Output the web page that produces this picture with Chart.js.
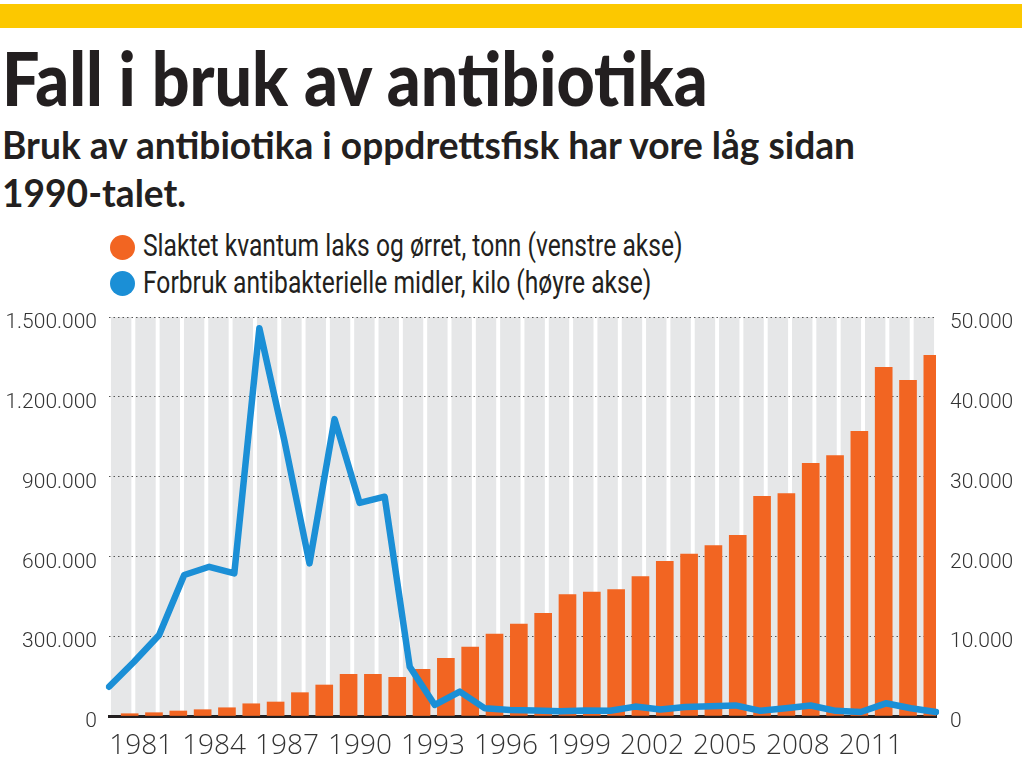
<!DOCTYPE html>
<html>
<head>
<meta charset="utf-8">
<script src="https://cdn.jsdelivr.net/npm/chart.js@4.4.1/dist/chart.umd.min.js"></script>
<style>
  html, body { margin: 0; padding: 0; background: #fff; }
  body { width: 1024px; height: 777px; position: relative; overflow: hidden; color: #231f20; }
  #topbar { position: absolute; left: 0; top: 4px; width: 1022px; height: 24px; background: #fcc800; }
  .fit { position: absolute; white-space: nowrap; transform-origin: 0 0; }
  #title { left: 2px; top: 40px; font: 900 75px/75px Lato, sans-serif; }
  #sub1 { left: 2px; top: 120px; font: 700 38px/48px Lato, sans-serif; }
  #sub2 { left: 2px; top: 168px; font: 700 38px/48px Lato, sans-serif; }
  .dot { position: absolute; left: 110px; width: 25px; height: 25px; border-radius: 50%; }
  .legtxt { left: 143px; font: 400 31px/36px Roboto, sans-serif; }
  #wrap { position: absolute; left: 0; top: 300px; width: 1024px; height: 477px; }
</style>
</head>
<body>
<div id="topbar"></div>
<div id="title" class="fit">Fall i bruk av antibiotika</div>
<div id="sub1" class="fit">Bruk av antibiotika i oppdrettsfisk har vore låg sidan</div>
<div id="sub2" class="fit">1990-talet.</div>
<div class="dot" style="top:235px;background:#f26522"></div>
<div id="leg1" class="fit legtxt" style="top:228px">Slaktet kvantum laks og ørret, tonn (venstre akse)</div>
<div class="dot" style="top:271px;background:#1b8fd6"></div>
<div id="leg2" class="fit legtxt" style="top:265px">Forbruk antibakterielle midler, kilo (høyre akse)</div>
<div id="wrap"><canvas id="chart"></canvas></div>
<script>
var years = ['1981', '1982', '1983', '1984', '1985', '1986', '1987', '1988', '1989', '1990',
  '1991', '1992', '1993', '1994', '1995', '1996', '1997', '1998', '1999', '2000',
  '2001', '2002', '2003', '2004', '2005', '2006', '2007', '2008', '2009', '2010',
  '2011', '2012', '2013', '2014'];
// slaktet kvantum, tonn (venstre akse)
var tonnes = [8600, 12400, 18800, 23700, 31000, 46000, 52600, 87700, 116500, 156600,
  156600, 145300, 175500, 216900, 259400, 308300, 345900, 386000, 456000, 466000,
  475000, 523800, 581500, 609000, 640400, 679300, 826000, 835800, 950000, 978600,
  1070300, 1310800, 1262000, 1356000];
// antibakterielle midler, kilo (hoyre akse)
var kilos = [3670, 6800, 10150, 17670, 18700, 17880, 48580, 34500, 19130, 37200,
  26700, 27480, 6180, 1380, 3050, 960, 750, 680, 590, 690,
  650, 1180, 810, 1140, 1210, 1330, 650, 970, 1320, 650,
  500, 1590, 970, 500];
var shownYears = ['1981', '1984', '1987', '1990', '1993', '1996', '1999', '2002', '2005', '2008', '2011'];
var leftTicks = [0, 300000, 600000, 900000, 1200000, 1500000];
var rightTicks = [0, 10000, 20000, 30000, 40000, 50000];

function fmt(v) {
  return String(v).replace(/\B(?=(\d{3})+(?!\d))/g, '.');
}

function fitText() {
  var s;
  s = 706 / document.getElementById('title').offsetWidth;
  document.getElementById('title').style.transform = 'scaleX(' + s + ')';
  s = 853 / document.getElementById('sub1').offsetWidth;
  document.getElementById('sub1').style.transform = 'scaleX(' + s + ')';
  document.getElementById('sub2').style.transform = 'scaleX(' + s + ')';
  s = 540 / document.getElementById('leg1').offsetWidth;
  document.getElementById('leg1').style.transform = 'scaleX(' + s + ')';
  document.getElementById('leg2').style.transform = 'scaleX(' + s + ')';
}
fitText();
if (document.fonts) document.fonts.ready.then(fitText);

var stripes = {
  id: 'stripes',
  beforeDraw: function(chart) {
    var ctx = chart.ctx, area = chart.chartArea, x = chart.scales.x;
    ctx.save();
    ctx.fillStyle = '#e6e7e8';
    for (var i = 0; i < years.length; i++) {
      var cx = x.getPixelForValue(i);
      ctx.fillRect(cx - 10.2, area.top, 20.4, area.bottom - area.top);
    }
    ctx.restore();
  }
};

var tickFont = { family: 'Roboto, sans-serif', size: 21, weight: '300' };

function noPad(s) {
  s.paddingTop = 0;
  s.paddingBottom = 0;
}

new Chart(document.getElementById('chart'), {
  type: 'bar',
  data: {
    labels: years,
    datasets: [
      {
        type: 'line',
        label: 'Forbruk antibakterielle midler, kilo (høyre akse)',
        data: kilos,
        xAxisID: 'x2',
        yAxisID: 'y1',
        borderColor: '#1b8fd6',
        borderWidth: 6.5,
        borderJoinStyle: 'round',
        borderCapStyle: 'round',
        pointRadius: 0,
        tension: 0,
        order: 0
      },
      {
        label: 'Slaktet kvantum laks og ørret, tonn (venstre akse)',
        data: tonnes,
        xAxisID: 'x',
        yAxisID: 'y',
        backgroundColor: '#f26522',
        barThickness: 17,
        order: 1
      }
    ]
  },
  options: {
    responsive: true,
    maintainAspectRatio: false,
    animation: false,
    layout: { padding: { top: 17, bottom: 0, left: 0, right: 0 } },
    plugins: {
      legend: { display: false },
      tooltip: { enabled: false }
    },
    scales: {
      x: {
        offset: true,
        z: 1,
        grid: { display: false, drawTicks: false },
        border: { display: true, color: '#231f20', width: 3 },
        afterFit: function(s) { s.height = 61; },
        ticks: {
          autoSkip: false,
          maxRotation: 0,
          align: 'start',
          labelOffset: -12,
          padding: 13,
          color: '#333',
          font: { family: "'Open Sans', Roboto, sans-serif", style: 'condensed', weight: '300', size: 28 },
          callback: function(v, i) { return shownYears.indexOf(years[i]) >= 0 ? years[i] : ''; }
        }
      },
      x2: {
        type: 'category',
        offset: false,
        display: false
      },
      y: {
        position: 'left',
        min: 0,
        max: 1500000,
        afterBuildTicks: function(s) { s.ticks = leftTicks.map(function(v) { return { value: v }; }); },
        afterFit: function(s) { s.width = 109; noPad(s); },
        grid: { color: '#555', lineWidth: 1, drawTicks: false },
        border: { display: false, dash: [1.5, 3] },
        ticks: { padding: 12, labelOffset: 6, color: '#333', font: tickFont, callback: function(v) { return fmt(v); } }
      },
      y1: {
        position: 'right',
        min: 0,
        max: 50000,
        afterBuildTicks: function(s) { s.ticks = rightTicks.map(function(v) { return { value: v }; }); },
        afterFit: function(s) { s.width = 88; noPad(s); },
        grid: { display: false, drawTicks: false },
        border: { display: false },
        ticks: { padding: 14, labelOffset: 6, color: '#333', font: tickFont, callback: function(v) { return fmt(v); } }
      }
    }
  },
  plugins: [stripes]
});
</script>
</body>
</html>
